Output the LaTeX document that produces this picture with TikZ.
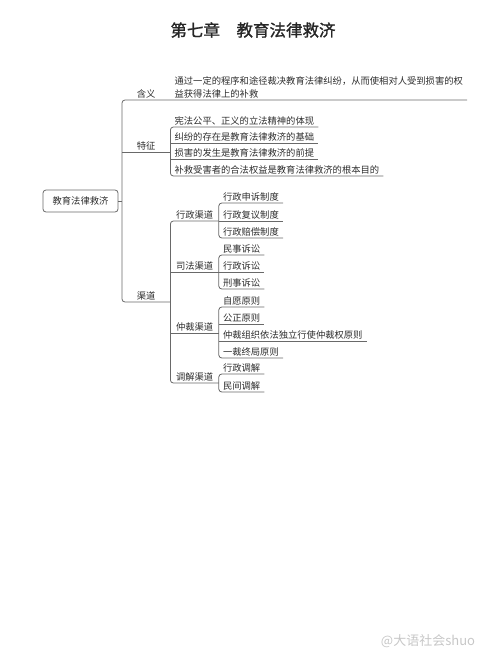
\documentclass[tikz,border=0pt]{standalone}
\usepackage{fontspec}
\newfontfamily\cjk{Noto Sans CJK SC}
\newfontfamily\cjkbold[FakeBold=1.2]{Noto Sans CJK SC}
\definecolor{linegray}{RGB}{105,105,105}
\definecolor{textgray}{RGB}{45,45,45}
\tikzset{
  link/.style={draw=linegray, line width=0.8pt, rounded corners=3pt},
  leaf/.style={anchor=south west, inner xsep=4pt, inner ysep=1.5pt, text=textgray,
    font=\cjk\fontsize{9.3}{13}\selectfont},
  branch/.style={leaf, minimum width=48pt},
  rootbox/.style={draw=linegray, line width=0.8pt, rounded corners=3pt, minimum width=75pt,
    minimum height=22pt, text=textgray, font=\cjk\fontsize{9.3}{13}\selectfont}
}

\begin{document}
\begin{tikzpicture}[x=1pt,y=-1pt]
				\useasboundingbox (0,0) rectangle (500,666);
				\node[font=\cjkbold\fontsize{16.5}{18}\selectfont, text=black!85] (title) at (253,30) {第七章　教育法律救济};
				\node[rootbox] (root) at (80.5,201) {教育法律救济};
				% first level
				\node[branch] (hanyi) at (122,100) {含义};
				\node[leaf, align=left] (hanyitxt) at (hanyi.south east) {通过一定的程序和途径裁决教育法律纠纷，从而使相对人受到损害的权\\益获得法律上的补救};
				\node[branch] (tezheng) at (122,152) {特征};
				\node[branch] (qudao) at (122,302) {渠道};
				% features
				\node[leaf] (tz1) at (tezheng.south east |- 0,127) {宪法公平、正义的立法精神的体现};
				\node[leaf] (tz2) at (tezheng.south east |- 0,143) {纠纷的存在是教育法律救济的基础};
				\node[leaf] (tz3) at (tezheng.south east |- 0,159) {损害的发生是教育法律救济的前提};
				\node[leaf] (tz4) at (tezheng.south east |- 0,176) {补救受害者的合法权益是教育法律救济的根本目的};
				% channels
				\node[branch] (xz) at (qudao.south east |- 0,221) {行政渠道};
				\node[branch] (sf) at (qudao.south east |- 0,272) {司法渠道};
				\node[branch] (zc) at (qudao.south east |- 0,333) {仲裁渠道};
				\node[branch] (tj) at (qudao.south east |- 0,383) {调解渠道};
				\node[leaf] (xz1) at (xz.south east |- 0,203) {行政申诉制度};
				\node[leaf] (xz2) at (xz.south east |- 0,221) {行政复议制度};
				\node[leaf] (xz3) at (xz.south east |- 0,238) {行政赔偿制度};
				\node[leaf] (sf1) at (sf.south east |- 0,255) {民事诉讼};
				\node[leaf] (sf2) at (sf.south east |- 0,272) {行政诉讼};
				\node[leaf] (sf3) at (sf.south east |- 0,289) {刑事诉讼};
				\node[leaf] (zc1) at (zc.south east |- 0,307) {自愿原则};
				\node[leaf] (zc2) at (zc.south east |- 0,324) {公正原则};
				\node[leaf] (zc3) at (zc.south east |- 0,341) {仲裁组织依法独立行使仲裁权原则};
				\node[leaf] (zc4) at (zc.south east |- 0,358) {一裁终局原则};
				\node[leaf] (tj1) at (tj.south east |- 0,374) {行政调解};
				\node[leaf] (tj2) at (tj.south east |- 0,392) {民间调解};
				% brackets
				\draw[link] (root.east) -- (root.east -| hanyi.south west);
				\draw[link] (hanyitxt.south east) -- (hanyi.south west) -- (qudao.south west) -- (qudao.south east);
				\draw[link] (tz1.south east) -- (tz1.south west) -- (tz4.south west) -- (tz4.south east);
				\draw[link] (xz.south east) -- (xz.south west) -- (tj.south west) -- (tj.south east);
				\draw[link] (xz1.south east) -- (xz1.south west) -- (xz3.south west) -- (xz3.south east);
				\draw[link] (sf1.south east) -- (sf1.south west) -- (sf3.south west) -- (sf3.south east);
				\draw[link] (zc1.south east) -- (zc1.south west) -- (zc4.south west) -- (zc4.south east);
				\draw[link] (tj1.south east) -- (tj1.south west) -- (tj2.south west) -- (tj2.south east);
				\foreach \n in {tezheng,tz2,tz3,sf,zc,xz2,sf2,zc2,zc3}
				\draw[link] (\n.south west) -- (\n.south east);
				% watermark
				\node[font=\cjk\fontsize{13}{15}\selectfont, text=black!22] (mark) at (428,641) {@大语社会shuo};
			\end{tikzpicture}
\end{document}
